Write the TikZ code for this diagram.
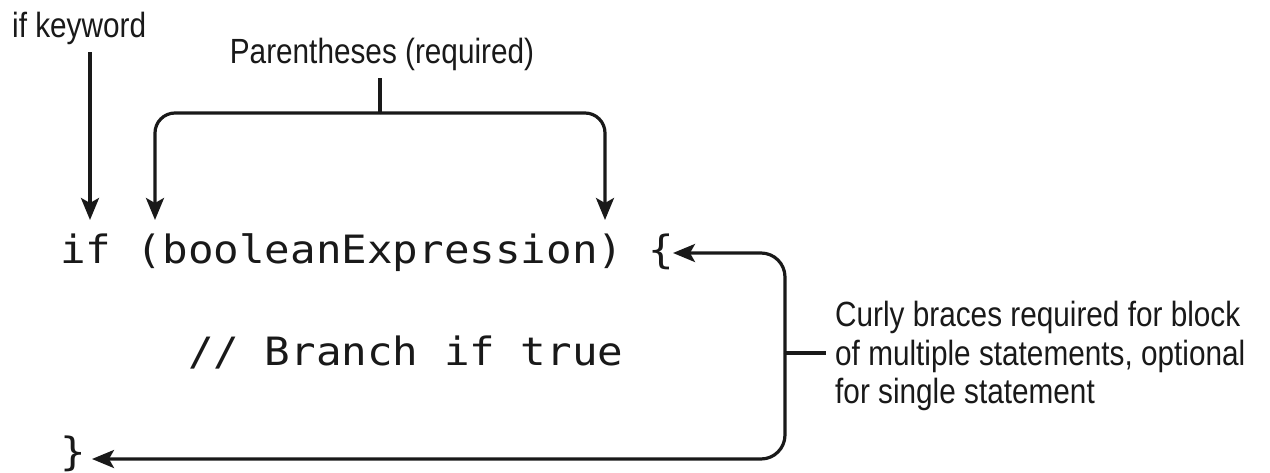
\documentclass[tikz,border=0pt]{standalone}
\usepackage{fontspec}
\setmainfont{Liberation Sans}[FakeStretch=0.85]
\newfontfamily\codefont{DejaVu Sans Mono}[FakeStretch=1.09]
\usetikzlibrary{arrows.meta,calc}
\begin{document}
\begin{tikzpicture}[x=1pt,y=-1pt,
  note/.style={inner sep=0pt, font=\fontsize{35pt}{38.5pt}\selectfont, text=black!90},
  code/.style={inner sep=0pt, anchor=base west, font=\codefont\fontsize{39pt}{46pt}\selectfont, text=black!90},
  conn/.style={line width=3.2pt, draw=black!90},
  arr/.style={conn, -{Stealth[length=22pt,width=18pt,inset=5pt]}},
]
\useasboundingbox (0,0) rectangle (1270,472);

% the code being annotated
\node[code] (line1) at (60,263) {if (booleanExpression) \{};
\node[code] (line2) at (188,365) {// Branch if true};
\node[code] (line3) at (60,465) {\}};

% annotations
\node[note, anchor=base west] (kwlabel) at (12,37) {if keyword};
\node[note, anchor=base] (parlabel) at (382,63) {Parentheses (required)};
\node[note, anchor=west, align=left] (bracelabel) at (835,356)
  {Curly braces required for block\\of multiple statements, optional\\for single statement};

% where the arrows land and meet
\coordinate (ifpt) at (90,220);
\coordinate (lparpt) at (155,220);
\coordinate (rparpt) at (605,220);
\coordinate (parjoin) at (380,113);
\coordinate (lbracept) at (673,253);
\coordinate (rbracept) at (92,459);
\coordinate (bracejoin) at (785,353);

% keyword arrow
\draw[arr] ($(kwlabel.south -| ifpt)+(0,8)$) -- (ifpt);

% parentheses bracket
\draw[conn] ($(parlabel.south -| parjoin)+(0,8)$) -- (parjoin);
\draw[arr, rounded corners=20pt] (parjoin) -| (lparpt);
\draw[arr, rounded corners=20pt] (parjoin) -| (rparpt);

% curly-brace bracket
\draw[arr, rounded corners=24pt] (bracejoin) |- (lbracept);
\draw[arr, rounded corners=24pt] (bracejoin) |- (rbracept);
\draw[conn, shorten >=9pt] (bracejoin) -- (bracelabel.west |- bracejoin);
\end{tikzpicture}
\end{document}
